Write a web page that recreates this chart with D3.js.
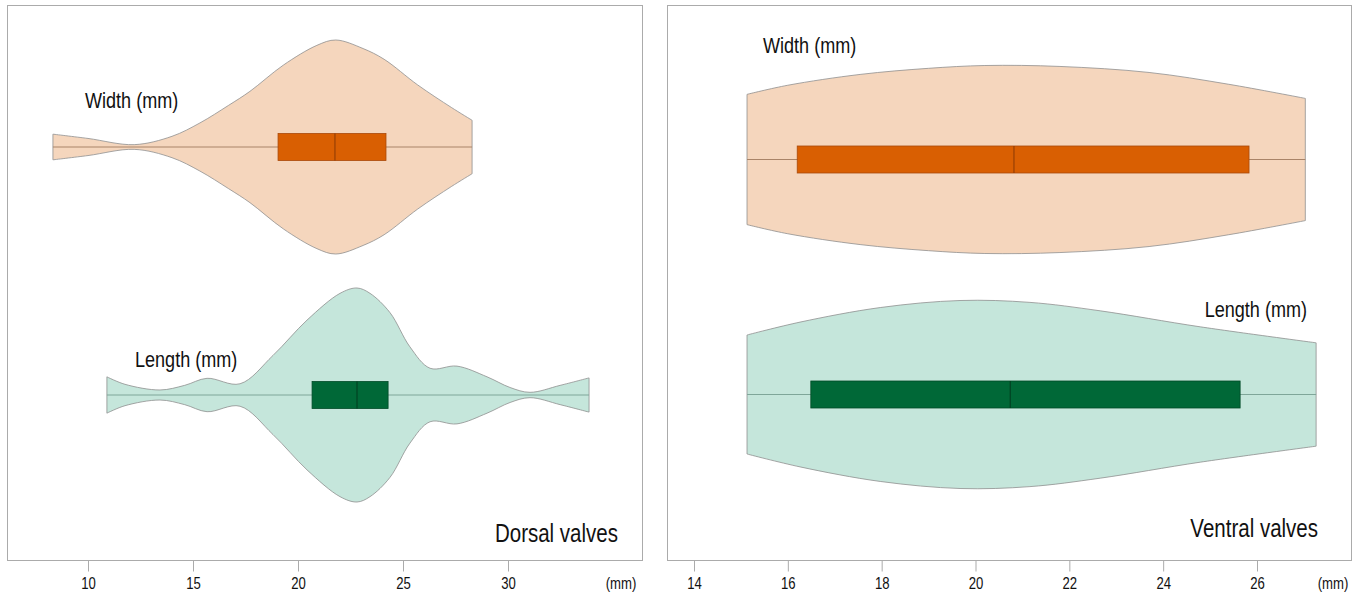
<!DOCTYPE html>
<html>
<head>
<meta charset="utf-8">
<script src="https://cdn.jsdelivr.net/npm/d3@7"></script>
<style>
  html, body { margin: 0; padding: 0; background: #fff; }
  svg text { font-family: "Liberation Sans Narrow", "Arial Narrow", "Liberation Sans", Arial, sans-serif; fill: #111; }
</style>
</head>
<body>
<svg id="chart" width="1365" height="602"></svg>
<script>
// ---------------- DATA ----------------
const panels = ["Dorsal valves", "Ventral valves"];
const variables = ["Width (mm)", "Length (mm)"];
const dorsalTicks = [10, 15, 20, 25, 30];
const ventralTicks = [14, 16, 18, 20, 22, 24, 26];
const unitLabel = "(mm)";

// violin density profiles (value in mm, relative density 0..1)
const dorsalWidthGrid    = [8.33, 10, 12.2, 14, 15.33, 16.7, 17.71, 19.3, 20.9, 21.8, 23.1, 24.1, 25.7, 27.3, 28.29];
const dorsalWidthDensity = [0.12, 0.08, 0.022, 0.1, 0.225, 0.39, 0.52, 0.765, 0.95, 1.0, 0.92, 0.82, 0.58, 0.37, 0.25];

const dorsalLengthGrid    = [10.9, 11.76, 13.43, 14.6, 15.67, 17.24, 18.81, 20.43, 22.0, 22.81, 23.43, 24.38, 25.33, 26.29, 27.57, 29.0, 30.1, 31.05, 32.48, 33.86];
const dorsalLengthDensity = [0.17, 0.1, 0.047, 0.09, 0.156, 0.105, 0.37, 0.70, 0.95, 1.0, 0.95, 0.77, 0.45, 0.25, 0.27, 0.17, 0.07, 0.025, 0.09, 0.16];

const ventralWidthGrid    = [15.13, 16.0, 17.54, 19.0, 20.2, 21.8, 23.7, 25.4, 27.03];
const ventralWidthDensity = [0.693, 0.79, 0.905, 0.97, 1.0, 0.99, 0.926, 0.8, 0.65];

const ventralLengthGrid    = [15.13, 16.26, 17.97, 19.67, 21.16, 22.66, 24.79, 27.26];
const ventralLengthDensity = [0.633, 0.77, 0.925, 1.0, 0.98, 0.89, 0.72, 0.55];

// box statistics: min, Q1, median, Q3, max
const dorsalWidthBox   = [8.33, 19.05, 21.76, 24.19, 28.29];
const dorsalLengthBox  = [10.9, 20.67, 22.81, 24.29, 33.86];
const ventralWidthBox  = [15.13, 16.2, 20.82, 25.83, 27.03];
const ventralLengthBox = [15.13, 16.49, 20.74, 25.64, 27.26];

// ---------------- STYLE ----------------
const styles = {
  "Width (mm)":  { fill: "#F5D6BD", box: "#D95F02", boxStroke: "#A9490A", median: "#8A3A05", line: "#A98468" },
  "Length (mm)": { fill: "#C5E6DB", box: "#006837", boxStroke: "#004A27", median: "#003B1E", line: "#7FA699" }
};
const NARROW = 0.82; // emulate a condensed sans face

const svg = d3.select("#chart");
svg.append("rect").attr("width", 1365).attr("height", 602).attr("fill", "#fff");

const layout = [
  {
    name: panels[0], left: 7.5, right: 642.5, top: 5.5, bottom: 560.5,
    x: d3.scaleLinear().domain([10, 30]).range([88, 508]),
    ticks: dorsalTicks, unitX: 621,
    rows: d3.scalePoint().domain(variables).range([147, 395]),
    half: d3.scaleLinear().domain([0, 1]).range([0, 107]),
    series: [
      { v: variables[0], grid: dorsalWidthGrid, dens: dorsalWidthDensity, box: dorsalWidthBox },
      { v: variables[1], grid: dorsalLengthGrid, dens: dorsalLengthDensity, box: dorsalLengthBox }
    ],
    labels: [ { v: variables[0], x: 85, y: 108 }, { v: variables[1], x: 135, y: 367 } ],
    title: { x: 618, y: 542 }
  },
  {
    name: panels[1], left: 667.5, right: 1351.5, top: 5.5, bottom: 560.5,
    x: d3.scaleLinear().domain([14, 26]).range([694, 1257]),
    ticks: ventralTicks, unitX: 1333,
    rows: d3.scalePoint().domain(variables).range([159.5, 394.5]),
    half: d3.scaleLinear().domain([0, 1]).range([0, 94]),
    series: [
      { v: variables[0], grid: ventralWidthGrid, dens: ventralWidthDensity, box: ventralWidthBox },
      { v: variables[1], grid: ventralLengthGrid, dens: ventralLengthDensity, box: ventralLengthBox }
    ],
    labels: [ { v: variables[0], x: 763, y: 53 }, { v: variables[1], x: 1307, y: 317, anchor: "end" } ],
    title: { x: 1318, y: 537 }
  }
];

layout.forEach(p => {
  const g = svg.append("g");
  // panel frame
  g.append("rect")
    .attr("x", p.left).attr("y", p.top)
    .attr("width", p.right - p.left).attr("height", p.bottom - p.top)
    .attr("fill", "none").attr("stroke", "#ABABAB").attr("stroke-width", 1);

  // axis
  const axis = d3.axisBottom(p.x).tickValues(p.ticks).tickSize(11).tickSizeOuter(0).tickPadding(6)
    .tickFormat(d3.format("d"));
  const ag = g.append("g").attr("transform", `translate(0,${p.bottom})`).call(axis);
  ag.select(".domain").remove();
  ag.selectAll(".tick line").attr("stroke", "#ABABAB");
  ag.selectAll(".tick text").attr("font-size", 16).attr("fill", "#111")
    .attr("font-family", null);
  g.append("text").attr("x", p.unitX).attr("y", 589).attr("text-anchor", "middle")
    .attr("font-size", 16).text(unitLabel);

  // violins
  p.series.forEach(s => {
    const st = styles[s.v];
    const cy = p.rows(s.v);
    const pts = s.grid.map((m, i) => ({ m, d: s.dens[i] }));
    const area = d3.area()
      .x(d => p.x(d.m))
      .y0(d => cy - p.half(d.d))
      .y1(d => cy + p.half(d.d))
      .curve(d3.curveCatmullRom.alpha(0.5));
    g.append("path").datum(pts).attr("d", area)
      .attr("fill", st.fill).attr("stroke", "#8F8F8F").attr("stroke-width", 0.8);

    // whisker line min..max
    g.append("line")
      .attr("x1", p.x(s.box[0])).attr("x2", p.x(s.box[4]))
      .attr("y1", cy).attr("y2", cy)
      .attr("stroke", st.line).attr("stroke-width", 1);

    // box
    const bh = 13.5;
    g.append("rect")
      .attr("x", p.x(s.box[1])).attr("y", cy - bh)
      .attr("width", p.x(s.box[3]) - p.x(s.box[1])).attr("height", 2 * bh)
      .attr("fill", st.box).attr("stroke", st.boxStroke).attr("stroke-width", 0.8);
    g.append("line")
      .attr("x1", p.x(s.box[2])).attr("x2", p.x(s.box[2]))
      .attr("y1", cy - bh).attr("y2", cy + bh)
      .attr("stroke", st.median).attr("stroke-width", 1);
  });

  // variable labels
  p.labels.forEach(l => {
    g.append("text").attr("x", l.x).attr("y", l.y)
      .attr("text-anchor", l.anchor || "start")
      .attr("font-size", 22).text(l.v);
  });

  // panel title
  g.append("text").attr("x", p.title.x).attr("y", p.title.y)
    .attr("text-anchor", "end").attr("font-size", 25).text(p.name);
});

// condense every text horizontally (the original uses a narrow sans face)
svg.selectAll("text").each(function () {
  const w = this.getComputedTextLength();
  if (w > 0) {
    d3.select(this).attr("textLength", w * NARROW).attr("lengthAdjust", "spacingAndGlyphs");
  }
});
</script>
</body>
</html>
